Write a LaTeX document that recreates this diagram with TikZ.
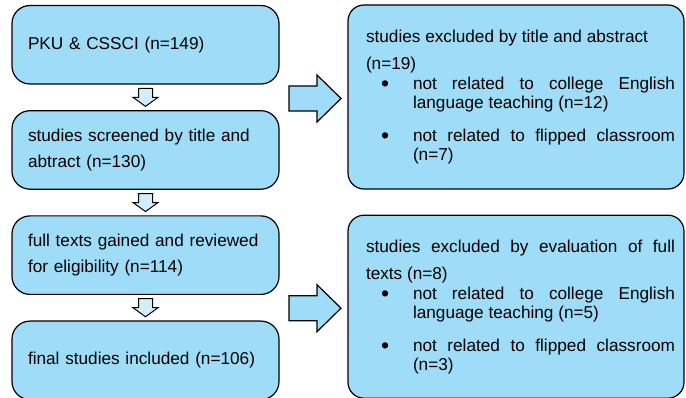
\documentclass[tikz,border=0pt]{standalone}
\usepackage{fontspec}
\setmainfont{Liberation Sans}
\usepackage{tikz}
\usetikzlibrary{calc,positioning}

\definecolor{boxblue}{RGB}{158,220,248}
\definecolor{paleblue}{RGB}{212,237,250}

% one bullet line of an exclusion box
\newcommand{\exitem}[1]{\par\noindent\hspace*{15pt}\makebox[32pt][l]{\raisebox{-2.5pt}{\fontsize{23}{19}\selectfont\textbullet}}\parbox[t]{262pt}{\fontsize{17.2}{19}\selectfont #1}}

\tikzset{
  leftbox/.style={draw, line width=1.2pt, fill=boxblue, rounded corners=18pt,
    minimum width=267pt, minimum height=78.5pt, text width=235pt, inner xsep=16pt,
    align=left, font=\fontsize{17.2}{26}\selectfont},
  rightbox/.style={draw, line width=1.2pt, fill=boxblue, rounded corners=16pt,
    minimum width=336pt, text width=318pt, inner xsep=9pt,
    align=justify, font=\fontsize{17.2}{20}\selectfont},
  smallarrow/.style={draw, line width=1pt, fill=paleblue, line join=miter},
  bigarrow/.style={draw, line width=1.2pt, fill=boxblue, line join=miter},
  pics/downarrow/.style={code={
    \draw[smallarrow] (-7,9) -- (7,9) -- (7,0) -- (12.5,0) -- (0,-9) -- (-12.5,0) -- (-7,0) -- cycle;
  }},
  pics/rightarrow/.style={code={
    \draw[bigarrow] (-26,12.5) -- (2,12.5) -- (2,23.5) -- (26,0) -- (2,-23.5) -- (2,-12.5) -- (-26,-12.5) -- cycle;
  }},
}

\begin{document}
\begin{tikzpicture}[x=1pt, y=1pt]
  \useasboundingbox (0,0) rectangle (686,-398);

  % left column
  \node[leftbox] (pku) at (145.5,-44.75) {PKU \& CSSCI (n=149)};
  \node[leftbox, below=25.5pt of pku] (screened) {studies screened by title and\\abtract (n=130)};
  \node[leftbox, below=25.5pt of screened] (fulltext) {full texts gained and reviewed\\for eligibility (n=114)};
  \node[leftbox, below=25.5pt of fulltext] (final) {final studies included (n=106)};

  % right column
  \node[rightbox, minimum height=184pt] (excl1) at (516,-97) {\leftskip=9pt
    {\fontsize{17.2}{27}\selectfont studies excluded by title and abstract\\(n=19)\par}
    \exitem{not related to college English\linebreak language teaching (n=12)}
    \par\vspace{16pt}
    \exitem{not related to flipped classroom\linebreak (n=7)}\par};
  \node[rightbox, minimum height=183pt, below=25pt of excl1] (excl2) {\leftskip=9pt
    {\fontsize{17.2}{27}\selectfont studies excluded by evaluation of full\linebreak texts (n=8)\par}
    \exitem{not related to college English\linebreak language teaching (n=5)}
    \par\vspace{16pt}
    \exitem{not related to flipped classroom\linebreak (n=3)}\par};

  % arrows
  \pic at ($(pku.south)!.5!(screened.north)$) {downarrow};
  \pic at ($(screened.south)!.5!(fulltext.north)$) {downarrow};
  \pic at ($(fulltext.south)!.5!(final.north)$) {downarrow};
  \pic[xshift=1.5pt, yshift=-1.5pt] at ($(pku.east |- excl1.west)!.5!(excl1.west)$) {rightarrow};
  \pic[xshift=1.5pt, yshift=-1.5pt] at ($(fulltext.east |- excl2.west)!.5!(excl2.west)$) {rightarrow};
\end{tikzpicture}
\end{document}
